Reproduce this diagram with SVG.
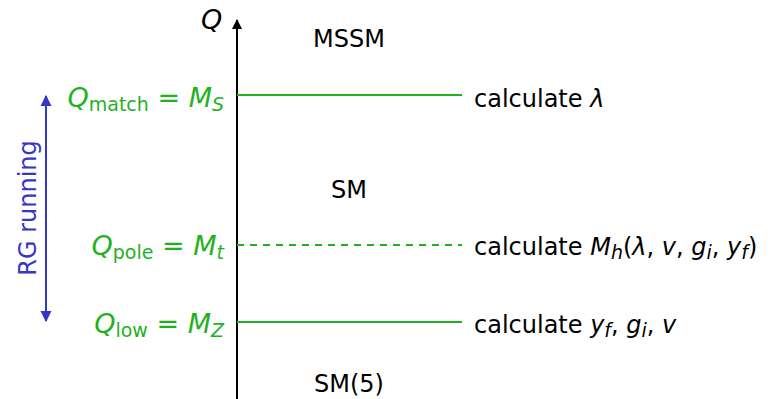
<svg xmlns="http://www.w3.org/2000/svg" width="774" height="399" viewBox="0 0 774 399">
<defs>
<marker id="ah" viewBox="0 0 10 10" refX="9" refY="5" markerWidth="5" markerHeight="6" orient="auto"><path d="M0,0 L10,5 L0,10 z" fill="#000"/></marker>
<marker id="bh" viewBox="0 0 10 10" refX="9" refY="5" markerWidth="5.5" markerHeight="6" orient="auto-start-reverse"><path d="M0,0 L10,5 L0,10 z" fill="#3535c8"/></marker>
</defs>
<style>
text{font-family:"DejaVu Sans","Liberation Sans",sans-serif;}
.t{font-size:24px;fill:#000;}
.m{font-size:27px;fill:#1fb21f;}
.i{font-style:italic;}
.s{font-size:19px;}
.g{stroke:#1fb21f;stroke-width:2;fill:none;}
.q{font-size:27px;font-style:italic;fill:#000;}
</style>
<g id="connectors">
<line x1="237" y1="399" x2="237" y2="20" stroke="#000" stroke-width="2" marker-end="url(#ah)"/>
<line class="g" x1="237" y1="95" x2="462" y2="95"/>
<line class="g" x1="237" y1="245" x2="462" y2="245" stroke-dasharray="7,6"/>
<line class="g" x1="237" y1="322" x2="462" y2="322"/>
<line x1="46" y1="96" x2="46" y2="321" stroke="#3535c8" stroke-width="2" marker-start="url(#bh)" marker-end="url(#bh)"/>
</g>
<g id="axis-label"><text x="201" y="29" class="q">Q</text></g>
<g id="regions">
<text x="349" y="47" class="t" text-anchor="middle">MSSM</text>
<text x="349" y="198" class="t" text-anchor="middle">SM</text>
<text x="349" y="392" class="t" text-anchor="middle">SM(5)</text>
</g>
<g id="match">
<text x="224" y="107" class="m" text-anchor="end"><tspan class="i">Q</tspan><tspan class="s" dy="4">match</tspan><tspan dy="-4"> = </tspan><tspan class="i">M</tspan><tspan class="s i" dy="4">S</tspan></text>
<text x="474" y="107" class="t">calculate <tspan class="i">λ</tspan></text>
</g>
<g id="pole">
<text x="224" y="255" class="m" text-anchor="end"><tspan class="i">Q</tspan><tspan class="s" dy="4">pole</tspan><tspan dy="-4"> = </tspan><tspan class="i">M</tspan><tspan class="s i" dy="4">t</tspan></text>
<text x="474" y="255" class="t">calculate <tspan class="i">M</tspan><tspan class="i s" dy="4">h</tspan><tspan dy="-4">(</tspan><tspan class="i">λ</tspan>, <tspan class="i">v</tspan>, <tspan class="i">g</tspan><tspan class="i s" dy="4">i</tspan><tspan dy="-4">, </tspan><tspan class="i">y</tspan><tspan class="i s" dy="4">f</tspan><tspan dy="-4">)</tspan></text>
</g>
<g id="low">
<text x="224" y="333" class="m" text-anchor="end"><tspan class="i">Q</tspan><tspan class="s" dy="4">low</tspan><tspan dy="-4"> = </tspan><tspan class="i">M</tspan><tspan class="s i" dy="4">Z</tspan></text>
<text x="474" y="333" class="t">calculate <tspan class="i">y</tspan><tspan class="i s" dy="4">f</tspan><tspan dy="-4">, </tspan><tspan class="i">g</tspan><tspan class="i s" dy="4">i</tspan><tspan dy="-4">, </tspan><tspan class="i">v</tspan></text>
</g>
<g id="rg">
<text x="0" y="0" transform="translate(36,208) rotate(-90)" font-size="24" fill="#3535c8" text-anchor="middle">RG running</text>
</g>
</svg>
